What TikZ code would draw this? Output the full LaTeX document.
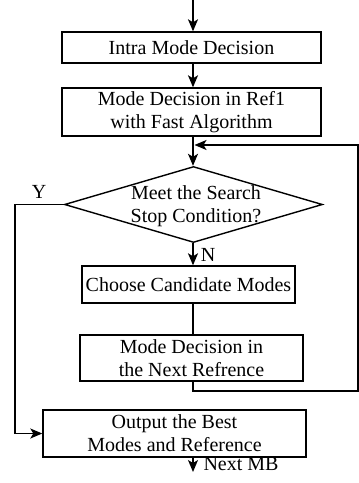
\documentclass[tikz,border=0pt]{standalone}
\usepackage{fontspec}
\setmainfont{Liberation Serif}
\usetikzlibrary{arrows.meta,shapes.geometric}
\begin{document}
\begin{tikzpicture}[x=1pt,y=1pt,
  every node/.style={font=\fontsize{20}{23}\selectfont},
  box/.style={draw,line width=1.4pt,inner sep=0pt,align=center},
  conn/.style={line width=1.4pt},
  arr/.style={line width=1.4pt,-{Stealth[length=12pt,width=10pt,inset=3pt]}}]
\useasboundingbox (0,0) rectangle (359,-483);
\coordinate (top) at (193,0);
\node[box,minimum width=259pt,minimum height=31pt] (b1) at (191.5,-47.5) {Intra Mode Decision};
\node[box,minimum width=259pt,minimum height=48pt] (b2) at (191.5,-112) {Mode Decision in Ref1\\with Fast Algorithm};
\node[diamond,draw,line width=1.4pt,inner sep=0pt,minimum width=258pt,minimum height=76pt] (d) at (193.5,-204.5) {};
\node[align=center] (dt) at (196,-206) {Meet the Search\\Stop Condition?};
\node[box,minimum width=213pt,minimum height=37pt] (b3) at (188.5,-284.5) {Choose Candidate Modes};
\node[box,minimum width=223pt,minimum height=46pt] (b4) at (191.5,-358) {Mode Decision in\\the Next Refrence};
\node[box,minimum width=263pt,minimum height=47pt] (b5) at (174.5,-433.5) {Output the Best\\Modes and Reference};
\coordinate (end) at (193,-472);
\coordinate (fb1) at (193,-391);
\coordinate (fb2) at (358,-391);
\coordinate (fb3) at (358,-145);
\coordinate (fb4) at (194.5,-145);
\coordinate (y1) at (15,-204.5);
\draw[arr] (top) -- (top |- b1.north);
\draw[arr] (top |- b1.south) -- (top |- b2.north);
\draw[arr] (top |- b2.south) -- (top |- d.north);
\draw[arr] (top |- d.south) -- (top |- b3.north);
\draw[conn] (top |- b3.south) -- (top |- b4.north);
\draw[arr] (top |- b4.south) -- (fb1) -- (fb2) -- (fb3) -- (fb4);
\draw[arr] (d.west) -- (y1) -- (y1 |- b5.west) -- (b5.west);
\draw[arr] (top |- b5.south) -- (end);
\node (Y) at (39,-192) {Y};
\node (N) at (208,-255) {N};
\node[anchor=west] (nmb) at (200,-464) {Next MB};
\end{tikzpicture}
\end{document}
